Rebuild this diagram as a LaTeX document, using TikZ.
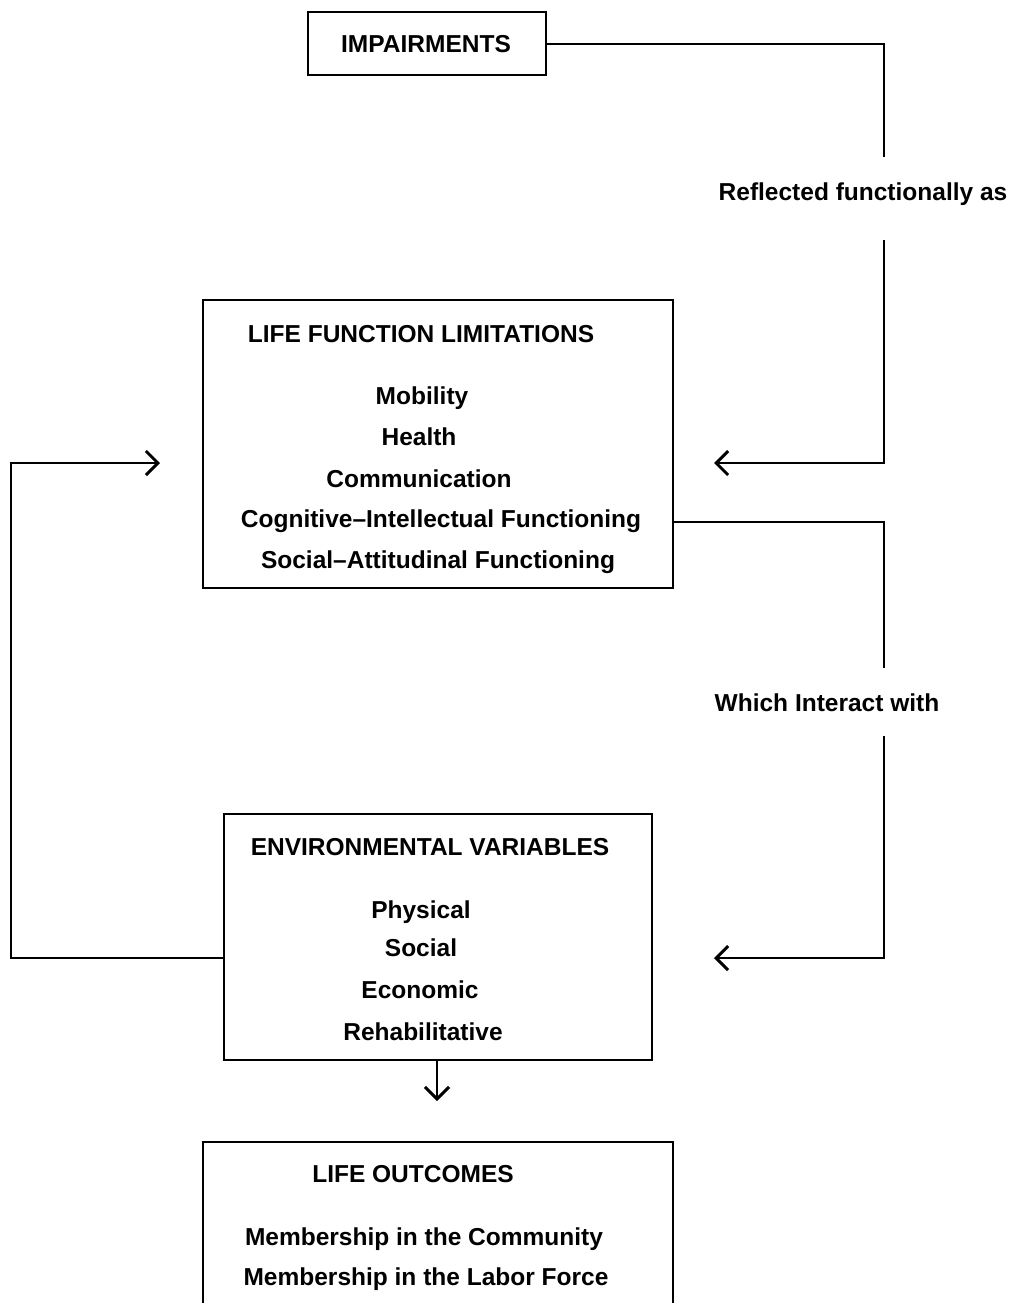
\documentclass[tikz,border=0pt]{standalone}
\usepackage{fontspec}
\setmainfont{Liberation Sans}
\usetikzlibrary{arrows.meta}
\begin{document}
\begin{tikzpicture}[x=1pt,y=-1pt,
  box/.style={draw, line width=2.2pt, inner sep=0pt},
  txt/.style={font=\fontsize{24.5}{28}\selectfont\bfseries, inner sep=0pt, text height=17pt, text depth=5pt},
  conn/.style={line width=2.6pt, line join=miter},
  tip/.style={-{Straight Barb[length=12pt,width=24pt,line width=3pt]}}]
\useasboundingbox (0,0) rectangle (1023,1303);
\clip (0,0) rectangle (1023,1303);
% boxes
\node[box, minimum width=238pt, minimum height=63pt] (imp) at (427,43.5) {};
\node[box, minimum width=470pt, minimum height=288pt] (lfl) at (438,444) {};
\node[box, minimum width=428pt, minimum height=246pt] (env) at (438,937) {};
\node[box, minimum width=470pt, minimum height=200pt] (out) at (438,1242) {};
% texts
\node[txt] (timp) at (426,47) {IMPAIRMENTS};
\node[txt] (refl) at (863,194) {Reflected functionally as};
\node[txt] (tlfl) at (421,336) {LIFE FUNCTION LIMITATIONS};
\node[txt] (mob) at (422,398) {Mobility};
\node[txt] (hea) at (419,439) {Health};
\node[txt] (com) at (419,481) {Communication};
\node[txt] (cog) at (441,521) {Cognitive–Intellectual Functioning};
\node[txt] (soc) at (438,562) {Social–Attitudinal Functioning};
\node[txt] (inter) at (827,705) {Which Interact with};
\node[txt] (tenv) at (430,849) {ENVIRONMENTAL VARIABLES};
\node[txt] (phy) at (421,912) {Physical};
\node[txt] (socl) at (421,950) {Social};
\node[txt] (eco) at (420,992) {Economic};
\node[txt] (reh) at (423,1034) {Rehabilitative};
\node[txt] (tout) at (413,1176) {LIFE OUTCOMES};
\node[txt] (mc) at (424,1239) {Membership in the Community};
\node[txt] (ml) at (426,1279) {Membership in the Labor Force};
% coordinates
\coordinate (a1) at (884,44);
\coordinate (a2) at (884,157);
\coordinate (a3) at (884,240);
\coordinate (a4) at (884,463);
\coordinate (atip) at (714,463);
\coordinate (b1) at (884,522);
\coordinate (b2) at (884,668);
\coordinate (b3) at (884,736);
\coordinate (b4) at (884,958);
\coordinate (btip) at (714,958);
\coordinate (c1) at (11,958);
\coordinate (c2) at (11,463);
\coordinate (ctip) at (160,463);
\coordinate (dtip) at (437,1101);
% connectors
\draw[conn] (imp.east |- a1) -- (a1) -- (a2);
\draw[conn, tip] (a3) -- (a4) -- (atip);
\draw[conn] (lfl.east |- b1) -- (b1) -- (b2);
\draw[conn, tip] (b3) -- (b4) -- (btip);
\draw[conn, tip] (env.west |- c1) -- (c1) -- (c2) -- (ctip);
\draw[conn, tip] (env.south -| dtip) -- (dtip);
\end{tikzpicture}
\end{document}
